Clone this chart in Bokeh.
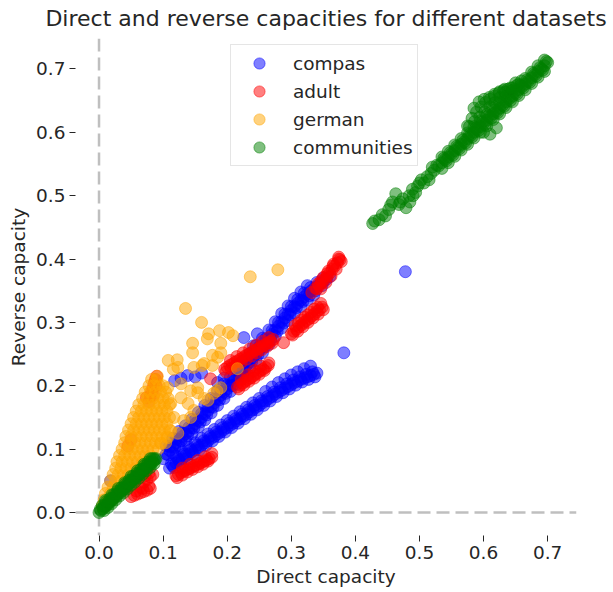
from bokeh.plotting import figure
from bokeh.models import Span, FixedTicker, NumeralTickFormatter, Range1d
from bokeh.embed import file_html
from bokeh.resources import INLINE

# ---- data: (direct capacity, reverse capacity) per dataset ----
compas_x = [
    # upper band, middle row
    0.100, 0.105, 0.110, 0.115, 0.120, 0.125, 0.130, 0.135, 0.140, 0.145, 0.150, 0.155, 0.160, 0.165,
    0.170, 0.175, 0.180, 0.185, 0.190, 0.195, 0.200, 0.205, 0.210, 0.215, 0.220, 0.225, 0.230, 0.235,
    0.240, 0.245, 0.250, 0.255, 0.260, 0.265, 0.270, 0.275, 0.280, 0.285, 0.290, 0.295, 0.300, 0.305,
    0.310, 0.315, 0.320, 0.325, 0.330, 0.335, 0.340, 0.345, 0.350, 0.355, 0.360,
    # upper band, top row
    0.105, 0.115, 0.125, 0.135, 0.145, 0.155, 0.165, 0.175, 0.185, 0.195, 0.205, 0.215, 0.225, 0.235,
    0.245, 0.255, 0.265, 0.275, 0.285, 0.295, 0.305, 0.315, 0.325,
    # upper band, bottom row
    0.115, 0.125, 0.135, 0.145, 0.155, 0.165, 0.175, 0.185, 0.195, 0.205, 0.215, 0.225, 0.235, 0.245,
    0.255, 0.265, 0.275, 0.285, 0.295, 0.305, 0.315, 0.325, 0.335,
    # upper band, in-between rows
    0.110, 0.120, 0.130, 0.140, 0.150, 0.160, 0.170, 0.180, 0.190, 0.200, 0.210, 0.220, 0.230, 0.240,
    0.250, 0.260, 0.270, 0.280, 0.290, 0.300, 0.310, 0.320, 0.330, 0.340, 0.350,
    0.108, 0.118, 0.128, 0.138, 0.148, 0.158, 0.168, 0.178, 0.188, 0.198, 0.208, 0.218, 0.228, 0.238,
    0.248, 0.258, 0.268, 0.278, 0.288, 0.298, 0.308, 0.318, 0.328, 0.338, 0.348,
    # points above the upper band
    0.118, 0.128, 0.138, 0.150, 0.160, 0.185, 0.195, 0.226, 0.241, 0.247,
    # lower band, middle row
    0.110, 0.115, 0.120, 0.125, 0.130, 0.135, 0.140, 0.145, 0.150, 0.155, 0.160, 0.165, 0.170, 0.175,
    0.180, 0.185, 0.190, 0.195, 0.200, 0.205, 0.210, 0.215, 0.220, 0.225, 0.230, 0.235, 0.240, 0.245,
    0.250, 0.255, 0.260, 0.265, 0.270, 0.275, 0.280, 0.285, 0.290, 0.295, 0.300, 0.305, 0.310, 0.315,
    0.320, 0.325, 0.330, 0.335, 0.340,
    # lower band, top row
    0.120, 0.130, 0.140, 0.150, 0.160, 0.170, 0.180, 0.190, 0.200, 0.210, 0.220, 0.230, 0.240, 0.250,
    0.260, 0.270, 0.280, 0.290, 0.300, 0.310, 0.320, 0.330,
    # lower band, in-between rows
    0.113, 0.123, 0.133, 0.143, 0.153, 0.163, 0.173, 0.183, 0.193, 0.203, 0.213, 0.223, 0.233, 0.243,
    0.253, 0.263, 0.273, 0.283, 0.293, 0.303, 0.313, 0.323, 0.333,
    0.117, 0.127, 0.137, 0.147, 0.157, 0.167, 0.177, 0.187, 0.197, 0.207, 0.217, 0.227, 0.237, 0.247,
    0.257, 0.267, 0.277, 0.287, 0.297, 0.307, 0.317, 0.327, 0.337,
    # isolated
    0.382, 0.478, 0.018,
]
compas_y = [
    0.085, 0.092, 0.098, 0.104, 0.110, 0.115, 0.120, 0.124, 0.128, 0.134, 0.140, 0.145, 0.150, 0.156,
    0.161, 0.167, 0.173, 0.179, 0.185, 0.190, 0.195, 0.201, 0.207, 0.213, 0.219, 0.226, 0.232, 0.238,
    0.244, 0.250, 0.256, 0.262, 0.268, 0.275, 0.281, 0.288, 0.294, 0.301, 0.307, 0.313, 0.319, 0.325,
    0.330, 0.335, 0.340, 0.345, 0.349, 0.353, 0.357, 0.361, 0.364, 0.368, 0.372,
    0.105, 0.117, 0.128, 0.137, 0.147, 0.158, 0.169, 0.180, 0.192, 0.203, 0.214, 0.226, 0.239, 0.251,
    0.263, 0.275, 0.288, 0.301, 0.314, 0.326, 0.338, 0.348, 0.358,
    0.094, 0.105, 0.114, 0.124, 0.135, 0.146, 0.157, 0.169, 0.180, 0.191, 0.203, 0.216, 0.228, 0.240,
    0.252, 0.265, 0.278, 0.291, 0.303, 0.315, 0.325, 0.335, 0.343,
    0.104, 0.116, 0.126, 0.134, 0.146, 0.156, 0.167, 0.179, 0.191, 0.201, 0.213, 0.225, 0.238, 0.250,
    0.262, 0.274, 0.287, 0.300, 0.313, 0.325, 0.336, 0.346, 0.355, 0.363, 0.370,
    0.091, 0.103, 0.113, 0.121, 0.133, 0.143, 0.154, 0.166, 0.178, 0.188, 0.200, 0.212, 0.224, 0.237,
    0.249, 0.261, 0.273, 0.286, 0.299, 0.312, 0.323, 0.333, 0.342, 0.350, 0.358,
    0.208, 0.212, 0.216, 0.214, 0.220, 0.205, 0.212, 0.276, 0.263, 0.282,
    0.070, 0.074, 0.078, 0.082, 0.085, 0.089, 0.092, 0.096, 0.099, 0.103, 0.106, 0.110, 0.113, 0.117,
    0.120, 0.124, 0.127, 0.131, 0.134, 0.138, 0.141, 0.145, 0.148, 0.152, 0.155, 0.159, 0.162, 0.166,
    0.169, 0.173, 0.176, 0.180, 0.183, 0.187, 0.190, 0.193, 0.196, 0.199, 0.202, 0.205, 0.207, 0.210,
    0.212, 0.214, 0.216, 0.218, 0.220,
    0.089, 0.096, 0.103, 0.110, 0.117, 0.124, 0.131, 0.138, 0.145, 0.152, 0.159, 0.166, 0.173, 0.180,
    0.191, 0.198, 0.205, 0.211, 0.217, 0.222, 0.227, 0.231,
    0.077, 0.085, 0.092, 0.099, 0.106, 0.113, 0.120, 0.127, 0.134, 0.141, 0.148, 0.155, 0.162, 0.169,
    0.176, 0.183, 0.190, 0.197, 0.203, 0.209, 0.214, 0.218, 0.222,
    0.071, 0.078, 0.085, 0.092, 0.099, 0.106, 0.113, 0.120, 0.127, 0.134, 0.141, 0.148, 0.155, 0.162,
    0.169, 0.176, 0.183, 0.189, 0.195, 0.201, 0.206, 0.210, 0.214,
    0.252, 0.380, 0.050,
]

adult_x = [
    # top band
    0.340, 0.344, 0.348, 0.352, 0.356, 0.360, 0.364, 0.368, 0.372, 0.376,
    0.342, 0.350, 0.358, 0.366, 0.374,
    0.346, 0.354, 0.362, 0.370, 0.378, 0.332,
    0.338, 0.347, 0.356, 0.365, 0.374,
    # right middle band
    0.300, 0.304, 0.308, 0.312, 0.316, 0.320, 0.324, 0.328, 0.332, 0.336, 0.340, 0.344, 0.348,
    0.306, 0.316, 0.326, 0.336, 0.346, 0.288, 0.265,
    0.302, 0.310, 0.318, 0.326, 0.334, 0.342, 0.350,
    0.311, 0.321, 0.331, 0.341,
    # band over the upper compas band
    0.196, 0.200, 0.204, 0.208, 0.212, 0.216, 0.220, 0.224, 0.228, 0.232, 0.236, 0.240, 0.244, 0.248,
    0.252, 0.256, 0.260, 0.264, 0.268, 0.272,
    0.205, 0.215, 0.225, 0.235, 0.245, 0.255, 0.265, 0.174,
    0.198, 0.206, 0.214, 0.222, 0.230, 0.238, 0.246, 0.254, 0.262, 0.270,
    # band just below it
    0.216, 0.220, 0.224, 0.228, 0.232, 0.236, 0.240, 0.244, 0.248, 0.252, 0.256, 0.260, 0.264,
    0.222, 0.232, 0.242, 0.252,
    0.218, 0.226, 0.234, 0.242, 0.250, 0.258,
    # low band
    0.120, 0.124, 0.128, 0.132, 0.136, 0.140, 0.144, 0.148, 0.152, 0.156, 0.160, 0.164, 0.168, 0.172,
    0.176, 0.130, 0.142, 0.154, 0.166, 0.176,
    0.122, 0.130, 0.138, 0.146, 0.154, 0.162, 0.170,
    # near the origin
    0.050, 0.055, 0.060, 0.065, 0.070, 0.075, 0.080, 0.058, 0.068, 0.078, 0.070, 0.075, 0.080, 0.072,
    0.078, 0.064, 0.084,
    # small steep cluster
    0.078, 0.080, 0.082, 0.084, 0.086, 0.088, 0.090, 0.085, 0.089, 0.074, 0.045, 0.050,
]
adult_y = [
    0.353, 0.358, 0.363, 0.368, 0.373, 0.378, 0.384, 0.389, 0.394, 0.399,
    0.361, 0.371, 0.381, 0.392, 0.403,
    0.353, 0.363, 0.373, 0.384, 0.396, 0.347,
    0.354, 0.366, 0.377, 0.389, 0.400,
    0.282, 0.286, 0.289, 0.293, 0.296, 0.300, 0.303, 0.306, 0.310, 0.313, 0.317, 0.320, 0.324,
    0.295, 0.304, 0.312, 0.321, 0.330, 0.268, 0.236,
    0.280, 0.286, 0.293, 0.300, 0.307, 0.313, 0.320,
    0.299, 0.308, 0.316, 0.324,
    0.226, 0.229, 0.232, 0.234, 0.237, 0.239, 0.242, 0.244, 0.247, 0.249, 0.251, 0.254, 0.256, 0.258,
    0.261, 0.263, 0.265, 0.268, 0.270, 0.273,
    0.240, 0.246, 0.252, 0.258, 0.264, 0.270, 0.276, 0.211,
    0.222, 0.227, 0.232, 0.237, 0.242, 0.247, 0.252, 0.257, 0.262, 0.267,
    0.198, 0.201, 0.204, 0.207, 0.210, 0.212, 0.215, 0.218, 0.221, 0.224, 0.226, 0.229, 0.232,
    0.210, 0.217, 0.224, 0.231,
    0.195, 0.201, 0.207, 0.212, 0.218, 0.224,
    0.058, 0.060, 0.063, 0.065, 0.067, 0.069, 0.071, 0.073, 0.075, 0.077, 0.079, 0.081, 0.083, 0.085,
    0.087, 0.070, 0.076, 0.082, 0.088, 0.093,
    0.055, 0.059, 0.064, 0.068, 0.072, 0.076, 0.081,
    0.025, 0.027, 0.029, 0.031, 0.033, 0.035, 0.038, 0.034, 0.038, 0.042, 0.048, 0.052, 0.056, 0.058,
    0.062, 0.040, 0.060,
    0.175, 0.183, 0.190, 0.197, 0.204, 0.210, 0.215, 0.185, 0.200, 0.181, 0.105, 0.115,
]

german_x = [
    # dense cloud near the origin
    0.005, 0.010,
    0.008, 0.015, 0.020,
    0.010, 0.018, 0.026,
    0.014, 0.022, 0.030, 0.036,
    0.018, 0.026, 0.034, 0.042,
    0.022, 0.030, 0.038, 0.046, 0.054,
    0.026, 0.034, 0.042, 0.050, 0.058, 0.064,
    0.028, 0.036, 0.044, 0.052, 0.060, 0.068, 0.074,
    0.032, 0.040, 0.048, 0.056, 0.064, 0.072, 0.080,
    0.036, 0.044, 0.052, 0.060, 0.068, 0.076, 0.084, 0.092,
    0.040, 0.048, 0.056, 0.064, 0.072, 0.080, 0.088, 0.096, 0.104,
    0.042, 0.050, 0.058, 0.066, 0.074, 0.082, 0.090, 0.098, 0.106,
    0.046, 0.054, 0.062, 0.070, 0.078, 0.086, 0.094, 0.102, 0.110,
    0.050, 0.058, 0.066, 0.074, 0.082, 0.090, 0.098, 0.106,
    0.054, 0.062, 0.070, 0.078, 0.086, 0.094, 0.102, 0.110,
    0.058, 0.066, 0.074, 0.082, 0.090, 0.098, 0.106,
    0.062, 0.070, 0.078, 0.086, 0.094, 0.102, 0.110,
    0.068, 0.076, 0.084, 0.092, 0.100, 0.108,
    0.072, 0.080, 0.088, 0.096, 0.104,
    0.078, 0.086, 0.094, 0.100,
    0.082, 0.090,
    # scattered points over the compas bands
    0.107, 0.128, 0.143, 0.154, 0.128, 0.112, 0.139, 0.148, 0.117, 0.143, 0.123, 0.112, 0.097, 0.179,
    0.190, 0.170, 0.184, 0.164, 0.132, 0.107, 0.154, 0.123, 0.164,
    # sparse upper points
    0.236, 0.279, 0.135, 0.160, 0.171, 0.188, 0.202, 0.209, 0.169, 0.146, 0.190, 0.146, 0.190, 0.108,
    0.122, 0.177, 0.116, 0.177, 0.148, 0.091, 0.161, 0.216, 0.185,
]
german_y = [
    0.010, 0.010,
    0.020, 0.020, 0.020,
    0.030, 0.030, 0.030,
    0.040, 0.040, 0.040, 0.040,
    0.050, 0.050, 0.050, 0.050,
    0.060, 0.060, 0.060, 0.060, 0.060,
    0.070, 0.070, 0.070, 0.070, 0.070, 0.070,
    0.080, 0.080, 0.080, 0.080, 0.080, 0.080, 0.080,
    0.090, 0.090, 0.090, 0.090, 0.090, 0.090, 0.090,
    0.100, 0.100, 0.100, 0.100, 0.100, 0.100, 0.100, 0.100,
    0.110, 0.110, 0.110, 0.110, 0.110, 0.110, 0.110, 0.110, 0.110,
    0.120, 0.120, 0.120, 0.120, 0.120, 0.120, 0.120, 0.120, 0.120,
    0.130, 0.130, 0.130, 0.130, 0.130, 0.130, 0.130, 0.130, 0.130,
    0.140, 0.140, 0.140, 0.140, 0.140, 0.140, 0.140, 0.140,
    0.150, 0.150, 0.150, 0.150, 0.150, 0.150, 0.150, 0.150,
    0.160, 0.160, 0.160, 0.160, 0.160, 0.160, 0.160,
    0.170, 0.170, 0.170, 0.170, 0.170, 0.170, 0.170,
    0.180, 0.180, 0.180, 0.180, 0.180, 0.180,
    0.190, 0.190, 0.190, 0.190, 0.190,
    0.200, 0.200, 0.200, 0.200,
    0.210, 0.210,
    0.197, 0.203, 0.192, 0.197, 0.181, 0.172, 0.172, 0.161, 0.150, 0.150, 0.125, 0.129, 0.109, 0.188,
    0.197, 0.177, 0.192, 0.180, 0.145, 0.118, 0.189, 0.229, 0.235,
    0.372, 0.383, 0.322, 0.300, 0.282, 0.287, 0.284, 0.279, 0.274, 0.267, 0.267, 0.252, 0.252, 0.240,
    0.241, 0.248, 0.226, 0.232, 0.229, 0.215, 0.232, 0.227, 0.245,
]

communities_x = [
    # low segment from the origin
    0.000, 0.003, 0.006, 0.009, 0.012, 0.015, 0.018, 0.021, 0.024, 0.027, 0.030, 0.033, 0.036, 0.039,
    0.042, 0.045, 0.048, 0.051, 0.054, 0.057, 0.060, 0.063, 0.066, 0.069, 0.072, 0.075, 0.078, 0.081,
    0.084, 0.087, 0.089,
    0.005, 0.011, 0.017, 0.023, 0.029, 0.035, 0.041, 0.047, 0.053, 0.059, 0.065, 0.071, 0.077, 0.083,
    0.008, 0.014, 0.020, 0.026, 0.032, 0.038, 0.044, 0.050, 0.056, 0.062, 0.068, 0.074, 0.080, 0.086,
    0.002, 0.008, 0.014, 0.020, 0.026, 0.032, 0.038, 0.044, 0.050, 0.056, 0.062, 0.068, 0.074, 0.080,
    0.086, 0.010, 0.020, 0.030, 0.040, 0.050, 0.060, 0.070, 0.080,
    # high segment, sparse start
    0.427, 0.437, 0.447, 0.452, 0.458, 0.463, 0.468, 0.474, 0.479, 0.484, 0.489, 0.494, 0.497, 0.503,
    0.507, 0.512, 0.518, 0.523, 0.527, 0.430, 0.442, 0.455, 0.470, 0.485, 0.490, 0.500, 0.515, 0.520,
    # high segment, dense middle row
    0.530, 0.535, 0.540, 0.545, 0.550, 0.555, 0.560, 0.565, 0.570, 0.575, 0.580, 0.585, 0.590, 0.595,
    0.600, 0.605, 0.610, 0.615, 0.620, 0.625, 0.630, 0.635, 0.640, 0.645, 0.650, 0.655, 0.660, 0.665,
    0.670, 0.675, 0.680, 0.685, 0.690, 0.695, 0.700,
    # upper and lower rows
    0.535, 0.545, 0.555, 0.565, 0.575, 0.585, 0.595, 0.605, 0.615, 0.625, 0.635, 0.645, 0.655, 0.665,
    0.675, 0.685, 0.695,
    0.535, 0.545, 0.555, 0.565, 0.575, 0.585, 0.595, 0.605, 0.615, 0.625, 0.635, 0.645, 0.655, 0.665,
    0.675, 0.685, 0.695,
    0.538, 0.548, 0.558, 0.568, 0.578, 0.588, 0.598, 0.608, 0.618, 0.628, 0.638, 0.648, 0.658, 0.668,
    0.678, 0.688, 0.698,
    0.542, 0.552, 0.562, 0.572, 0.582, 0.592, 0.602, 0.612, 0.622, 0.632, 0.642, 0.652, 0.662, 0.672,
    0.682, 0.692,
    # bulge above the line
    0.575, 0.582, 0.589, 0.596, 0.603, 0.610, 0.617, 0.624, 0.631, 0.638, 0.645, 0.652, 0.659,
    0.585, 0.593, 0.601, 0.609, 0.617, 0.625, 0.633,
    0.578, 0.586, 0.594, 0.602, 0.610, 0.618, 0.626, 0.634, 0.642, 0.650,
    0.600, 0.610, 0.620,
]
communities_y = [
    0.000, 0.003, 0.006, 0.009, 0.011, 0.014, 0.017, 0.020, 0.023, 0.026, 0.029, 0.032, 0.034, 0.037,
    0.040, 0.043, 0.046, 0.049, 0.052, 0.054, 0.057, 0.060, 0.063, 0.066, 0.069, 0.072, 0.074, 0.077,
    0.080, 0.083, 0.085,
    0.011, 0.017, 0.022, 0.028, 0.034, 0.039, 0.045, 0.051, 0.057, 0.062, 0.068, 0.074, 0.080, 0.085,
    0.003, 0.008, 0.014, 0.020, 0.026, 0.031, 0.037, 0.043, 0.048, 0.054, 0.060, 0.066, 0.071, 0.077,
    0.005, 0.011, 0.016, 0.022, 0.028, 0.034, 0.039, 0.045, 0.051, 0.056, 0.062, 0.068, 0.074, 0.079,
    0.085, 0.019, 0.028, 0.038, 0.047, 0.057, 0.066, 0.076, 0.085,
    0.456, 0.462, 0.468, 0.478, 0.490, 0.503, 0.486, 0.495, 0.481, 0.500, 0.510, 0.505, 0.515, 0.525,
    0.520, 0.530, 0.535, 0.540, 0.548, 0.460, 0.470, 0.485, 0.490, 0.490, 0.500, 0.520, 0.525, 0.545,
    0.547, 0.552, 0.557, 0.561, 0.566, 0.571, 0.576, 0.581, 0.585, 0.590, 0.595, 0.600, 0.605, 0.609,
    0.614, 0.619, 0.624, 0.629, 0.633, 0.638, 0.643, 0.648, 0.653, 0.657, 0.662, 0.667, 0.672, 0.676,
    0.681, 0.686, 0.691, 0.696, 0.700, 0.705, 0.710,
    0.561, 0.570, 0.580, 0.590, 0.599, 0.609, 0.618, 0.628, 0.638, 0.647, 0.657, 0.666, 0.676, 0.685,
    0.695, 0.705, 0.714,
    0.543, 0.552, 0.562, 0.572, 0.581, 0.591, 0.600, 0.610, 0.620, 0.629, 0.639, 0.648, 0.658, 0.667,
    0.677, 0.687, 0.696,
    0.559, 0.568, 0.578, 0.588, 0.597, 0.607, 0.616, 0.626, 0.635, 0.645, 0.655, 0.664, 0.674, 0.683,
    0.693, 0.702, 0.712,
    0.555, 0.564, 0.574, 0.583, 0.593, 0.603, 0.612, 0.622, 0.631, 0.641, 0.650, 0.660, 0.670, 0.679,
    0.689, 0.698,
    0.610, 0.622, 0.632, 0.640, 0.647, 0.652, 0.657, 0.662, 0.666, 0.668, 0.670, 0.674, 0.681,
    0.638, 0.648, 0.652, 0.655, 0.660, 0.664, 0.668,
    0.609, 0.617, 0.624, 0.632, 0.640, 0.647, 0.655, 0.663, 0.670, 0.678,
    0.600, 0.597, 0.607,
]

x_ticks = [0.0, 0.1, 0.2, 0.3, 0.4, 0.5, 0.6, 0.7]
y_ticks = [0.0, 0.1, 0.2, 0.3, 0.4, 0.5, 0.6, 0.7]

series = [
    ("compas", compas_x, compas_y, "blue"),
    ("adult", adult_x, adult_y, "red"),
    ("german", german_x, german_y, "orange"),
    ("communities", communities_x, communities_y, "green"),
]

FONT = "DejaVu Sans"
TEXT = "#262626"
SMALL = "18.5px"

p = figure(
    width=613, height=592,
    output_backend="svg", toolbar_location=None,
    x_range=Range1d(-0.0367, 0.745), y_range=Range1d(-0.0363, 0.748),
    min_border_left=75, min_border_right=37, min_border_top=38, min_border_bottom=57,
    title="Direct and reverse capacities for different datasets",
)
p.title.text_font = FONT
p.title.text_font_size = "22px"
p.title.text_font_style = "normal"
p.title.text_color = TEXT
p.title.align = "center"
p.title.standoff = 0
p.title.padding = dict(left=0, right=0, top=0, bottom=8)

p.grid.visible = False
p.outline_line_color = None
p.background_fill_color = "white"
p.border_fill_color = "white"

# dashed reference lines through the origin
for dim in ("width", "height"):
    p.add_layout(Span(location=0, dimension=dim, line_color="gray", line_alpha=0.5,
                      line_width=2.5, line_dash="13 6", level="underlay"))

for name, xs, ys, color in series:
    p.scatter(xs, ys, size=12, marker="circle", fill_color=color, line_color=color,
              fill_alpha=0.5, line_alpha=0.5, legend_label=name)

for ax, ticks, label in ((p.xaxis, x_ticks, "Direct capacity"), (p.yaxis, y_ticks, "Reverse capacity")):
    ax.ticker = FixedTicker(ticks=ticks)
    ax.formatter = NumeralTickFormatter(format="0.0")
    ax.axis_label = label
    ax.axis_label_text_font = FONT
    ax.axis_label_text_font_size = SMALL
    ax.axis_label_text_font_style = "normal"
    ax.axis_label_text_color = TEXT
    ax.axis_label_standoff = 4
    ax.major_label_text_font = FONT
    ax.major_label_text_font_size = SMALL
    ax.major_label_text_color = TEXT
    ax.major_label_standoff = 4
    ax.axis_line_color = None
    ax.major_tick_in = 0
    ax.major_tick_out = 6
    ax.major_tick_line_color = TEXT
    ax.minor_tick_line_color = None

lg = p.legend[0]
lg.location = (155, 369)
lg.margin = 0
lg.padding = 4
lg.spacing = 0
lg.glyph_width = 48
lg.glyph_height = 28
lg.label_height = 28
lg.label_standoff = 10
lg.label_text_font = FONT
lg.label_text_font_size = SMALL
lg.label_text_color = TEXT
lg.border_line_color = "#cccccc"
lg.border_line_width = 1
lg.background_fill_alpha = 0.8

open("out.html", "w").write(file_html(p, INLINE))
